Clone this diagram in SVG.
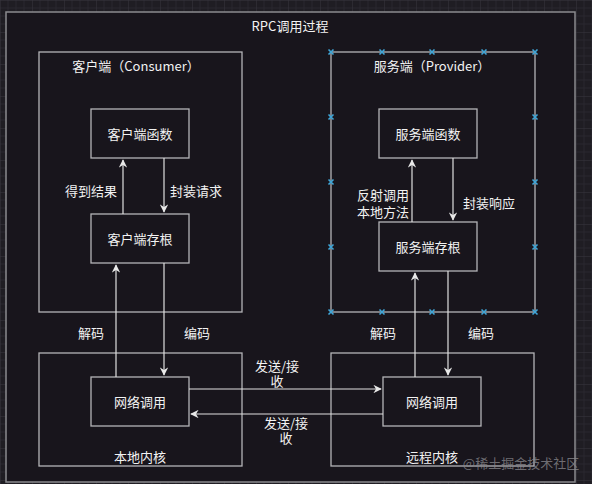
<svg xmlns="http://www.w3.org/2000/svg" width="592" height="484" viewBox="0 0 592 484">
<defs>
<pattern id="grid" width="32" height="32" patternUnits="userSpaceOnUse">
<rect width="32" height="32" fill="#1f1d23"/>
<path d="M8 0V32M16 0V32M24 0V32M0 8H32M0 16H32M0 24H32" stroke="#29272e" stroke-width="1"/>
<path d="M0 0V32M0 0H32" stroke="#38363e" stroke-width="1"/>
</pattern>
<marker id="arr" viewBox="0 0 10 10" refX="9" refY="5" markerWidth="7" markerHeight="7" orient="auto">
<path d="M0 0L10 5L0 10L3 5Z" fill="#e8e8e8"/>
</marker>
<g id="xm"><path d="M-2.5 -2.5L2.5 2.5M-2.5 2.5L2.5 -2.5" stroke="#3fa6d8" stroke-width="1.6"/></g>
</defs>
<style>
.t{font-family:"Noto Sans CJK SC","Liberation Sans",sans-serif;font-size:13px;fill:#f2f2f2;text-anchor:middle;dominant-baseline:central}
.box{fill:none;stroke:#b4b4b8;stroke-width:1.3}
.node{fill:#18151c;stroke:#b4b4b8;stroke-width:1.3}
.c{fill:none;stroke:#e0e0e0;stroke-width:1.2;marker-end:url(#arr)}
</style>
<rect width="592" height="484" fill="url(#grid)"/>
<rect x="6" y="12" width="569" height="470" fill="#18151c" stroke="#8a8a8e" stroke-width="1.5"/>
<text class="t" x="290" y="25">RPC调用过程</text>

<g id="client">
<rect class="box" x="39" y="52" width="203" height="260"/>
<text class="t" x="136" y="65">客户端（Consumer）</text>
</g>
<g id="server">
<rect class="box" x="331" y="52" width="204" height="260"/>
<text class="t" x="432" y="65">服务端（Provider）</text>
<use href="#xm" x="331" y="52"/><use href="#xm" x="382" y="52"/><use href="#xm" x="432" y="52"/><use href="#xm" x="484" y="52"/><use href="#xm" x="535" y="52"/>
<use href="#xm" x="331" y="117"/><use href="#xm" x="535" y="117"/>
<use href="#xm" x="331" y="182"/><use href="#xm" x="535" y="182"/>
<use href="#xm" x="331" y="247"/><use href="#xm" x="535" y="247"/>
<use href="#xm" x="331" y="312"/><use href="#xm" x="382" y="312"/><use href="#xm" x="432" y="312"/><use href="#xm" x="484" y="312"/><use href="#xm" x="535" y="312"/>
</g>
<g id="localkernel">
<rect class="box" x="39" y="353" width="203" height="113"/>
<text class="t" x="140" y="456">本地内核</text>
</g>
<g id="remotekernel">
<rect class="box" x="331" y="353" width="203" height="113"/>
<text class="t" x="432" y="456">远程内核</text>
</g>

<g id="clientfunc"><rect class="node" x="91" y="109" width="98" height="49"/><text class="t" x="140" y="133">客户端函数</text></g>
<g id="clientstub"><rect class="node" x="91" y="214" width="98" height="49"/><text class="t" x="140" y="238">客户端存根</text></g>
<g id="localnet"><rect class="node" x="91" y="377" width="98" height="49"/><text class="t" x="140" y="401">网络调用</text></g>
<g id="serverfunc"><rect class="node" x="379" y="109" width="98" height="49"/><text class="t" x="428" y="133">服务端函数</text></g>
<g id="serverstub"><rect class="node" x="379" y="222" width="98" height="49"/><text class="t" x="428" y="246">服务端存根</text></g>
<g id="remotenet"><rect class="node" x="383" y="377" width="98" height="49"/><text class="t" x="432" y="401">网络调用</text></g>

<g id="connectors">
<path class="c" d="M123 214V160"/>
<path class="c" d="M164 158V212"/>
<path class="c" d="M116 377V265"/>
<path class="c" d="M164 263V375"/>
<path class="c" d="M412 222V160"/>
<path class="c" d="M453 158V220"/>
<path class="c" d="M415 377V273"/>
<path class="c" d="M448 271V375"/>
<path class="c" d="M189 389H381"/>
<path class="c" d="M383 414H191"/>
</g>

<g id="labels">
<text class="t" x="91" y="190">得到结果</text>
<text class="t" x="196" y="190">封装请求</text>
<text class="t" x="383" y="194">反射调用<tspan x="383" dy="17">本地方法</tspan></text>
<text class="t" x="489" y="202">封装响应</text>
<text class="t" x="91" y="332">解码</text>
<text class="t" x="197" y="332">编码</text>
<text class="t" x="383" y="332">解码</text>
<text class="t" x="481" y="332">编码</text>
<text class="t" x="277" y="365">发送/接<tspan x="277" dy="15">收</tspan></text>
<text class="t" x="286" y="422">发送/接<tspan x="286" dy="15">收</tspan></text>
</g>
<text x="521" y="462" style="font-family:'Noto Sans CJK SC','Liberation Sans',sans-serif;font-size:13px;fill:#8a8a8e;fill-opacity:0.75;text-anchor:middle;dominant-baseline:central">@稀土掘金技术社区</text>
</svg>
